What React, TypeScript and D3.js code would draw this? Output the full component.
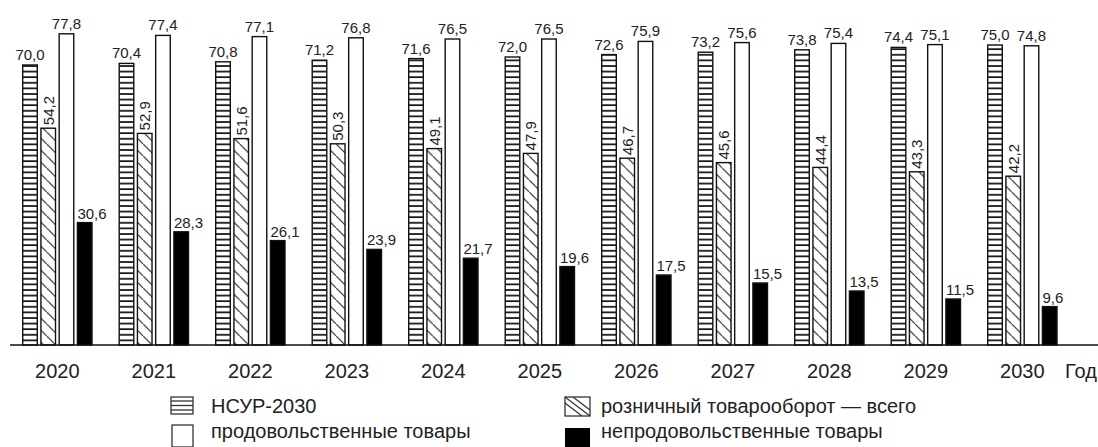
import React from "react";
import * as d3 from "d3";

const years = ["2020", "2021", "2022", "2023", "2024", "2025", "2026", "2027", "2028", "2029", "2030"];
const nsur = [70.0, 70.4, 70.8, 71.2, 71.6, 72.0, 72.6, 73.2, 73.8, 74.4, 75.0];
const retailTotal = [54.2, 52.9, 51.6, 50.3, 49.1, 47.9, 46.7, 45.6, 44.4, 43.3, 42.2];
const foodGoods = [77.8, 77.4, 77.1, 76.8, 76.5, 76.5, 75.9, 75.6, 75.4, 75.1, 74.8];
const nonFoodGoods = [30.6, 28.3, 26.1, 23.9, 21.7, 19.6, 17.5, 15.5, 13.5, 11.5, 9.6];
const seriesKeys = ["nsur", "retail", "food", "nonfood"];
const legendLabels = ["НСУР-2030", "розничный товарооборот — всего", "продовольственные товары", "непродовольственные товары"];
const axisTitle = "Год";

const W = 1098;
const H = 447;
const FONT = "'Liberation Sans', Arial, sans-serif";
const TXT = "#222";

const fmt = (v: number) => v.toFixed(1).replace(".", ",");

export default function App() {
  const x0 = d3.scaleBand<string>().domain(years).range([22.7, 1057]).paddingInner(0.282).paddingOuter(0);
  const x1 = d3.scaleBand<string>().domain(seriesKeys).range([0, x0.bandwidth()]).paddingInner(0.2).paddingOuter(0);
  const y = d3.scaleLinear().domain([0, 80]).range([345, 25]);
  const bw = x1.bandwidth();
  const base = y(0);

  const data = years.map((yr, i) => ({
    yr,
    vals: [nsur[i], retailTotal[i], foodGoods[i], nonFoodGoods[i]],
  }));

  const fills = ["url(#hpat)", "url(#dpat)", "#fff", "#000"];

  return (
    <div style={{ position: "fixed", left: 0, top: 0 }}>
      <svg width={W} height={H} style={{ display: "block", background: "#fff" }} fontFamily={FONT}>
        <defs>
          <pattern id="hpat" patternUnits="userSpaceOnUse" width={6} height={5.6} y={base}>
            <rect width={6} height={5.6} fill="#fff" />
            <line x1={0} x2={6} y1={1} y2={1} stroke="#111" strokeWidth={1.7} />
          </pattern>
          <pattern id="dpat" patternUnits="userSpaceOnUse" width={12} height={12}>
            <rect width={12} height={12} fill="#fff" />
            <line x1={-1} y1={-1} x2={13} y2={13} stroke="#222" strokeWidth={1.1} />
          </pattern>
        </defs>

        {data.map((d) => {
          const gx = x0(d.yr)!;
          return (
            <g key={d.yr} transform={`translate(${gx},0)`}>
              {d.vals.map((v, j) => {
                const bx = x1(seriesKeys[j])!;
                const top = y(v);
                return (
                  <rect
                    key={j}
                    x={bx}
                    y={top}
                    width={bw}
                    height={base - top}
                    fill={fills[j]}
                    stroke="#111"
                    strokeWidth={1.4}
                  />
                );
              })}
              {d.vals.map((v, j) => {
                const bx = x1(seriesKeys[j])!;
                const top = y(v);
                if (j === 1) {
                  const cx = bx + bw / 2 + 5.5;
                  const cy = top - 3;
                  return (
                    <text
                      key={"l" + j}
                      transform={`translate(${cx},${cy}) rotate(-90)`}
                      fontSize={15}
                      fill={TXT}
                      textAnchor="start"
                    >
                      {fmt(v)}
                    </text>
                  );
                }
                if (j === 3) {
                  return (
                    <text key={"l" + j} x={bx} y={top - 4} fontSize={15} fill={TXT} textAnchor="start">
                      {fmt(v)}
                    </text>
                  );
                }
                return (
                  <text key={"l" + j} x={bx + bw / 2} y={top - 5} fontSize={15} fill={TXT} textAnchor="middle">
                    {fmt(v)}
                  </text>
                );
              })}
              <text x={x0.bandwidth() / 2} y={378} fontSize={20} fill={TXT} textAnchor="middle">
                {d.yr}
              </text>
            </g>
          );
        })}

        <line x1={10} x2={W} y1={base} y2={base} stroke="#111" strokeWidth={1.4} />
        <text x={1065} y={378} fontSize={20} fill={TXT}>
          {axisTitle}
        </text>

        {/* Legend */}
        <g>
          <rect x={171} y={397} width={22} height={17} fill="#fff" stroke="#333" strokeWidth={1.3} />
          {[401, 405.5, 410].map((ly) => (
            <line key={ly} x1={171} x2={193} y1={ly} y2={ly} stroke="#333" strokeWidth={1.3} />
          ))}
          <text x={211} y={413} fontSize={20} fill={TXT}>{legendLabels[0]}</text>

          <rect x={565} y={397} width={25} height={19} fill="#fff" stroke="#333" strokeWidth={1.3} />
          <line x1={565} y1={397} x2={590} y2={416} stroke="#333" strokeWidth={1.2} />
          <line x1={573} y1={397} x2={590} y2={410} stroke="#333" strokeWidth={1.2} />
          <line x1={565} y1={403} x2={582} y2={416} stroke="#333" strokeWidth={1.2} />
          <text x={601} y={413} fontSize={20} fill={TXT}>{legendLabels[1]}</text>

          <rect x={172} y={425} width={21} height={22} fill="#fff" stroke="#333" strokeWidth={1.3} />
          <text x={211} y={438} fontSize={20} fill={TXT}>{legendLabels[2]}</text>

          <rect x={565} y={428} width={25} height={19} fill="#000" />
          <text x={601} y={438} fontSize={20} fill={TXT}>{legendLabels[3]}</text>
        </g>
      </svg>
    </div>
  );
}
